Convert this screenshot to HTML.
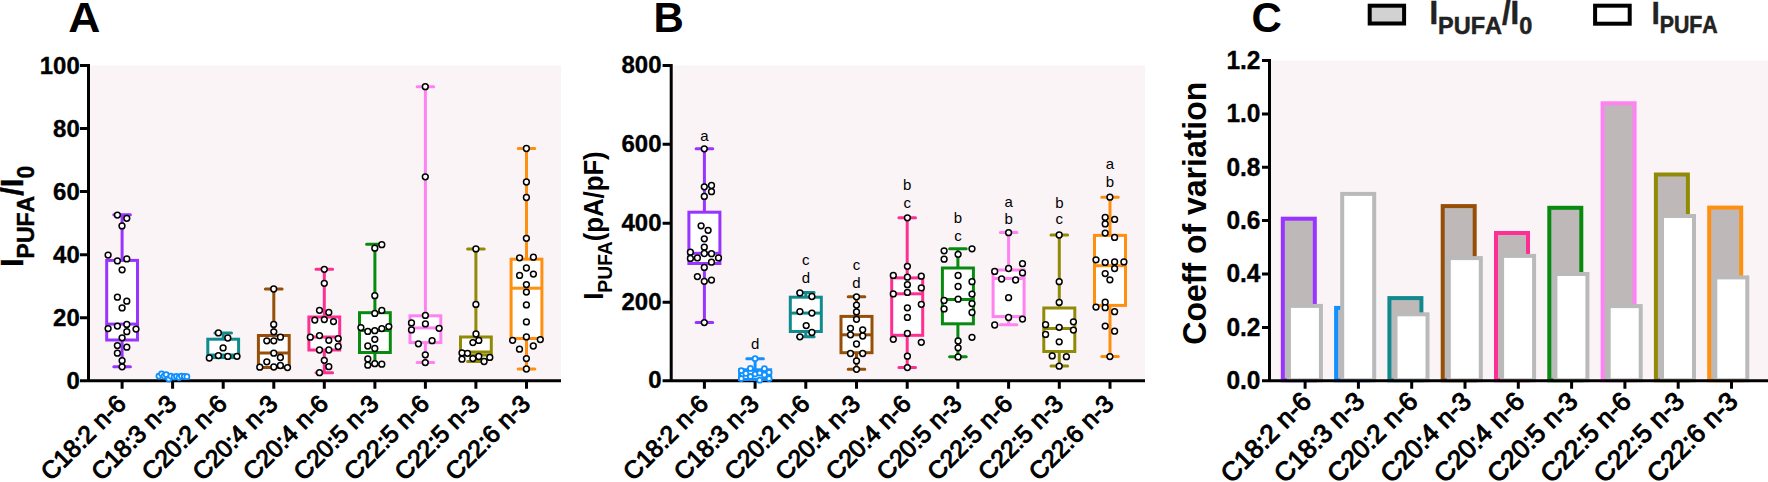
<!DOCTYPE html>
<html><head><meta charset="utf-8"><title>Figure</title>
<style>
html,body{margin:0;padding:0;background:#fff;}
body{width:1768px;height:482px;overflow:hidden;}
svg{display:block;font-family:'Liberation Sans', Arial, sans-serif;}
</style></head><body>
<svg width="1768" height="482" viewBox="0 0 1768 482">
<rect width="1768" height="482" fill="#fff"/>
<rect x="88.5" y="65.5" width="472.5" height="315.3" fill="#faf4f6"/>
<path d="M88.5 64.0V382.3M80 380.8H561M80 65.5H88.5M80 128.6H88.5M80 191.6H88.5M80 254.7H88.5M80 317.7H88.5M80 380.8H88.5M122.1 380.8V388.8M172.6 380.8V388.8M223.2 380.8V388.8M273.8 380.8V388.8M324.3 380.8V388.8M374.9 380.8V388.8M425.4 380.8V388.8M475.9 380.8V388.8M526.5 380.8V388.8" stroke="#000" stroke-width="3" fill="none"/>
<text transform="translate(79.8,73.5) scale(1,1.035)" text-anchor="end" font-size="24" font-weight="bold" stroke="#000" stroke-width="0.35">100</text>
<text transform="translate(79.8,136.6) scale(1,1.035)" text-anchor="end" font-size="24" font-weight="bold" stroke="#000" stroke-width="0.35">80</text>
<text transform="translate(79.8,199.6) scale(1,1.035)" text-anchor="end" font-size="24" font-weight="bold" stroke="#000" stroke-width="0.35">60</text>
<text transform="translate(79.8,262.7) scale(1,1.035)" text-anchor="end" font-size="24" font-weight="bold" stroke="#000" stroke-width="0.35">40</text>
<text transform="translate(79.8,325.7) scale(1,1.035)" text-anchor="end" font-size="24" font-weight="bold" stroke="#000" stroke-width="0.35">20</text>
<text transform="translate(79.8,388.8) scale(1,1.035)" text-anchor="end" font-size="24" font-weight="bold" stroke="#000" stroke-width="0.35">0</text>
<g stroke="#9933ff" stroke-width="3.0" fill="none"><path stroke-linecap="round" d="M122.1 260.4V214.8M113.8 214.8H130.4" /><path stroke-linecap="round" d="M122.1 340.0V366.7M113.8 366.7H130.4" /><rect x="106.7" y="260.4" width="30.8" height="79.6" fill="#fff"/><path d="M106.7 324.1H137.5"/></g>
<g stroke="#108a8c" stroke-width="3.0" fill="none"><path stroke-linecap="round" d="M223.2 339.2V333.0M214.9 333.0H231.5" /><rect x="207.8" y="339.2" width="30.8" height="18.4" fill="#fff"/><path d="M207.8 355.0H238.6"/></g>
<g stroke="#964f08" stroke-width="3.0" fill="none"><path stroke-linecap="round" d="M273.8 335.5V289.0M265.4 289.0H282.1" /><rect x="258.4" y="335.5" width="30.8" height="32.0" fill="#fff"/><path d="M258.4 353.0H289.1"/></g>
<g stroke="#ff2e93" stroke-width="3.0" fill="none"><path stroke-linecap="round" d="M324.3 317.0V269.3M316.0 269.3H332.6" /><path stroke-linecap="round" d="M324.3 350.0V372.7M316.0 372.7H332.6" /><rect x="308.9" y="317.0" width="30.8" height="33.0" fill="#fff"/><path d="M308.9 337.0H339.7"/></g>
<g stroke="#088a10" stroke-width="3.0" fill="none"><path stroke-linecap="round" d="M374.9 312.7V244.3M366.6 244.3H383.2" /><path stroke-linecap="round" d="M374.9 352.5V364.2M366.6 364.2H383.2" /><rect x="359.5" y="312.7" width="30.8" height="39.8" fill="#fff"/><path d="M359.5 330.5H390.2"/></g>
<g stroke="#ff82f2" stroke-width="3.0" fill="none"><path stroke-linecap="round" d="M425.4 315.8V86.7M417.1 86.7H433.7" /><path stroke-linecap="round" d="M425.4 342.6V362.5M417.1 362.5H433.7" /><rect x="410.0" y="315.8" width="30.8" height="26.8" fill="#fff"/><path d="M410.0 327.9H440.8"/></g>
<g stroke="#918a06" stroke-width="3.0" fill="none"><path stroke-linecap="round" d="M475.9 337.0V248.9M467.6 248.9H484.2" /><path stroke-linecap="round" d="M475.9 355.0V361.6M467.6 361.6H484.2" /><rect x="460.5" y="337.0" width="30.8" height="18.0" fill="#fff"/><path d="M460.5 352.0H491.3"/></g>
<g stroke="#ff900f" stroke-width="3.0" fill="none"><path stroke-linecap="round" d="M526.5 259.2V148.5M518.2 148.5H534.8" /><path stroke-linecap="round" d="M526.5 338.5V369.0M518.2 369.0H534.8" /><rect x="511.1" y="259.2" width="30.8" height="79.3" fill="#fff"/><path d="M511.1 288.2H541.9"/></g>
<g stroke="#000" stroke-width="1.5" fill="#fff"><circle cx="117.4" cy="215.1" r="2.9"/><circle cx="126.8" cy="218.3" r="2.9"/><circle cx="122.0" cy="225.9" r="2.9"/><circle cx="108.1" cy="255.1" r="2.9"/><circle cx="117.4" cy="260.9" r="2.9"/><circle cx="126.8" cy="258.9" r="2.9"/><circle cx="122.1" cy="269.8" r="2.9"/><circle cx="117.4" cy="297.2" r="2.9"/><circle cx="126.8" cy="301.2" r="2.9"/><circle cx="122.1" cy="307.9" r="2.9"/><circle cx="117.4" cy="326.1" r="2.9"/><circle cx="126.8" cy="324.4" r="2.9"/><circle cx="108.1" cy="328.6" r="2.9"/><circle cx="136.0" cy="329.1" r="2.9"/><circle cx="126.8" cy="331.7" r="2.9"/><circle cx="122.1" cy="337.8" r="2.9"/><circle cx="117.4" cy="345.6" r="2.9"/><circle cx="126.8" cy="347.2" r="2.9"/><circle cx="117.4" cy="353.2" r="2.9"/><circle cx="122.1" cy="360.7" r="2.9"/><circle cx="122.1" cy="366.8" r="2.9"/></g>
<g stroke="#1190ff" stroke-width="1.8" fill="#fff"><circle cx="158.9" cy="376.1" r="2.5"/><circle cx="161.6" cy="373.8" r="2.5"/><circle cx="164.1" cy="376.1" r="2.5"/><circle cx="166.2" cy="374.6" r="2.5"/><circle cx="168.8" cy="379.0" r="2.5"/><circle cx="170.9" cy="376.1" r="2.5"/><circle cx="174.1" cy="377.1" r="2.5"/><circle cx="176.5" cy="376.3" r="2.5"/><circle cx="179.0" cy="377.6" r="2.5"/><circle cx="181.5" cy="376.1" r="2.5"/><circle cx="184.3" cy="376.4" r="2.5"/><circle cx="186.9" cy="376.7" r="2.5"/></g>
<g stroke="#000" stroke-width="1.5" fill="#fff"><circle cx="218.4" cy="332.9" r="2.9"/><circle cx="227.8" cy="338.0" r="2.9"/><circle cx="223.1" cy="347.9" r="2.9"/><circle cx="209.3" cy="358.0" r="2.9"/><circle cx="218.4" cy="355.6" r="2.9"/><circle cx="227.8" cy="356.4" r="2.9"/><circle cx="237.0" cy="356.3" r="2.9"/></g>
<g stroke="#000" stroke-width="1.5" fill="#fff"><circle cx="273.7" cy="289.0" r="2.9"/><circle cx="273.7" cy="324.4" r="2.9"/><circle cx="273.8" cy="331.8" r="2.9"/><circle cx="280.4" cy="337.2" r="2.9"/><circle cx="266.8" cy="340.8" r="2.9"/><circle cx="273.8" cy="340.8" r="2.9"/><circle cx="273.8" cy="353.2" r="2.9"/><circle cx="280.4" cy="357.5" r="2.9"/><circle cx="266.8" cy="361.8" r="2.9"/><circle cx="259.8" cy="367.2" r="2.9"/><circle cx="273.8" cy="367.0" r="2.9"/><circle cx="280.4" cy="365.5" r="2.9"/><circle cx="287.5" cy="367.6" r="2.9"/></g>
<g stroke="#000" stroke-width="1.5" fill="#fff"><circle cx="324.3" cy="269.3" r="2.9"/><circle cx="324.3" cy="283.3" r="2.9"/><circle cx="319.5" cy="310.3" r="2.9"/><circle cx="328.8" cy="312.4" r="2.9"/><circle cx="314.8" cy="320.1" r="2.9"/><circle cx="324.3" cy="319.6" r="2.9"/><circle cx="333.5" cy="321.6" r="2.9"/><circle cx="310.3" cy="337.2" r="2.9"/><circle cx="319.5" cy="335.6" r="2.9"/><circle cx="328.8" cy="340.3" r="2.9"/><circle cx="338.2" cy="338.6" r="2.9"/><circle cx="338.2" cy="346.5" r="2.9"/><circle cx="319.5" cy="350.0" r="2.9"/><circle cx="328.8" cy="350.0" r="2.9"/><circle cx="324.3" cy="360.3" r="2.9"/><circle cx="328.8" cy="366.7" r="2.9"/><circle cx="319.5" cy="372.7" r="2.9"/></g>
<g stroke="#000" stroke-width="1.5" fill="#fff"><circle cx="381.8" cy="244.7" r="2.9"/><circle cx="374.8" cy="248.2" r="2.9"/><circle cx="374.8" cy="295.7" r="2.9"/><circle cx="381.8" cy="310.4" r="2.9"/><circle cx="374.8" cy="313.4" r="2.9"/><circle cx="360.9" cy="327.6" r="2.9"/><circle cx="367.8" cy="331.4" r="2.9"/><circle cx="374.8" cy="330.7" r="2.9"/><circle cx="381.8" cy="328.6" r="2.9"/><circle cx="388.8" cy="326.6" r="2.9"/><circle cx="374.8" cy="339.3" r="2.9"/><circle cx="367.8" cy="346.0" r="2.9"/><circle cx="374.8" cy="348.5" r="2.9"/><circle cx="367.8" cy="359.0" r="2.9"/><circle cx="367.8" cy="365.2" r="2.9"/><circle cx="374.8" cy="363.7" r="2.9"/><circle cx="381.8" cy="364.2" r="2.9"/></g>
<g stroke="#000" stroke-width="1.5" fill="#fff"><circle cx="425.3" cy="86.7" r="2.9"/><circle cx="425.3" cy="176.8" r="2.9"/><circle cx="425.4" cy="315.4" r="2.9"/><circle cx="411.5" cy="322.9" r="2.9"/><circle cx="425.4" cy="323.9" r="2.9"/><circle cx="411.5" cy="329.9" r="2.9"/><circle cx="439.1" cy="328.3" r="2.9"/><circle cx="432.1" cy="340.7" r="2.9"/><circle cx="418.4" cy="343.8" r="2.9"/><circle cx="425.3" cy="354.8" r="2.9"/><circle cx="425.3" cy="362.6" r="2.9"/></g>
<g stroke="#000" stroke-width="1.5" fill="#fff"><circle cx="475.9" cy="248.9" r="2.9"/><circle cx="475.9" cy="304.4" r="2.9"/><circle cx="476.0" cy="334.0" r="2.9"/><circle cx="478.8" cy="340.4" r="2.9"/><circle cx="472.9" cy="342.6" r="2.9"/><circle cx="462.0" cy="352.9" r="2.9"/><circle cx="467.5" cy="353.3" r="2.9"/><circle cx="462.0" cy="359.2" r="2.9"/><circle cx="472.9" cy="358.6" r="2.9"/><circle cx="478.8" cy="356.5" r="2.9"/><circle cx="484.1" cy="361.5" r="2.9"/><circle cx="489.8" cy="357.4" r="2.9"/></g>
<g stroke="#000" stroke-width="1.5" fill="#fff"><circle cx="526.4" cy="148.5" r="2.9"/><circle cx="526.4" cy="182.0" r="2.9"/><circle cx="526.4" cy="197.5" r="2.9"/><circle cx="526.4" cy="238.3" r="2.9"/><circle cx="519.6" cy="257.8" r="2.9"/><circle cx="533.4" cy="257.2" r="2.9"/><circle cx="526.4" cy="268.0" r="2.9"/><circle cx="519.6" cy="275.4" r="2.9"/><circle cx="533.4" cy="274.1" r="2.9"/><circle cx="526.4" cy="284.6" r="2.9"/><circle cx="526.4" cy="292.1" r="2.9"/><circle cx="526.4" cy="304.9" r="2.9"/><circle cx="526.4" cy="321.9" r="2.9"/><circle cx="526.4" cy="336.9" r="2.9"/><circle cx="512.6" cy="340.3" r="2.9"/><circle cx="540.3" cy="339.6" r="2.9"/><circle cx="519.5" cy="349.2" r="2.9"/><circle cx="533.3" cy="346.0" r="2.9"/><circle cx="526.4" cy="358.6" r="2.9"/><circle cx="526.4" cy="369.0" r="2.9"/></g>
<text transform="translate(127.4,405.3) rotate(-45)" style="font-kerning:none" text-anchor="end" font-size="24.6" stroke="#000" stroke-width="1.0">C18:2 n-6</text>
<text transform="translate(177.9,405.3) rotate(-45)" style="font-kerning:none" text-anchor="end" font-size="24.6" stroke="#000" stroke-width="1.0">C18:3 n-3</text>
<text transform="translate(228.5,405.3) rotate(-45)" style="font-kerning:none" text-anchor="end" font-size="24.6" stroke="#000" stroke-width="1.0">C20:2 n-6</text>
<text transform="translate(279.1,405.3) rotate(-45)" style="font-kerning:none" text-anchor="end" font-size="24.6" stroke="#000" stroke-width="1.0">C20:4 n-3</text>
<text transform="translate(329.6,405.3) rotate(-45)" style="font-kerning:none" text-anchor="end" font-size="24.6" stroke="#000" stroke-width="1.0">C20:4 n-6</text>
<text transform="translate(380.2,405.3) rotate(-45)" style="font-kerning:none" text-anchor="end" font-size="24.6" stroke="#000" stroke-width="1.0">C20:5 n-3</text>
<text transform="translate(430.7,405.3) rotate(-45)" style="font-kerning:none" text-anchor="end" font-size="24.6" stroke="#000" stroke-width="1.0">C22:5 n-6</text>
<text transform="translate(481.2,405.3) rotate(-45)" style="font-kerning:none" text-anchor="end" font-size="24.6" stroke="#000" stroke-width="1.0">C22:5 n-3</text>
<text transform="translate(531.8,405.3) rotate(-45)" style="font-kerning:none" text-anchor="end" font-size="24.6" stroke="#000" stroke-width="1.0">C22:6 n-3</text>
<rect x="671.2" y="65.5" width="473.79999999999995" height="315.3" fill="#faf4f6"/>
<path d="M671.2 64.0V382.3M662.6 380.8H1145M662.6 65.5H671.2M662.6 144.3H671.2M662.6 223.2H671.2M662.6 302.2H671.2M662.6 380.8H671.2M704.4 380.8V388.8M755.1 380.8V388.8M805.8 380.8V388.8M856.5 380.8V388.8M907.2 380.8V388.8M957.9 380.8V388.8M1008.6 380.8V388.8M1059.3 380.8V388.8M1110.0 380.8V388.8" stroke="#000" stroke-width="3" fill="none"/>
<text transform="translate(661.5,73.0) scale(1,1.035)" text-anchor="end" font-size="24" font-weight="bold" stroke="#000" stroke-width="0.35">800</text>
<text transform="translate(661.5,151.8) scale(1,1.035)" text-anchor="end" font-size="24" font-weight="bold" stroke="#000" stroke-width="0.35">600</text>
<text transform="translate(661.5,230.7) scale(1,1.035)" text-anchor="end" font-size="24" font-weight="bold" stroke="#000" stroke-width="0.35">400</text>
<text transform="translate(661.5,309.7) scale(1,1.035)" text-anchor="end" font-size="24" font-weight="bold" stroke="#000" stroke-width="0.35">200</text>
<text transform="translate(661.5,388.3) scale(1,1.035)" text-anchor="end" font-size="24" font-weight="bold" stroke="#000" stroke-width="0.35">0</text>
<g stroke="#9933ff" stroke-width="3.0" fill="none"><path stroke-linecap="round" d="M704.4 212.2V148.7M696.1 148.7H712.7" /><path stroke-linecap="round" d="M704.4 263.5V322.6M696.1 322.6H712.7" /><rect x="688.9" y="212.2" width="31.0" height="51.3" fill="#fff"/><path d="M688.9 253.3H719.9"/></g>
<g stroke="#1190ff" stroke-width="3.0" fill="none"><path stroke-linecap="round" d="M755.1 369.8V358.8M746.8 358.8H763.4" /><rect x="739.6" y="369.8" width="31.0" height="9.7" fill="#fff"/></g>
<g stroke="#108a8c" stroke-width="3.0" fill="none"><path stroke-linecap="round" d="M805.8 297.2V292.5M797.5 292.5H814.1" /><path stroke-linecap="round" d="M805.8 331.5V336.8M797.5 336.8H814.1" /><rect x="790.3" y="297.2" width="31.0" height="34.3" fill="#fff"/><path d="M790.3 313.1H821.3"/></g>
<g stroke="#964f08" stroke-width="3.0" fill="none"><path stroke-linecap="round" d="M856.5 316.4V296.8M848.2 296.8H864.8" /><path stroke-linecap="round" d="M856.5 352.7V369.2M848.2 369.2H864.8" /><rect x="841.0" y="316.4" width="31.0" height="36.3" fill="#fff"/><path d="M841.0 334.8H872.0"/></g>
<g stroke="#ff2e93" stroke-width="3.0" fill="none"><path stroke-linecap="round" d="M907.2 277.9V217.8M898.9 217.8H915.5" /><path stroke-linecap="round" d="M907.2 335.3V367.6M898.9 367.6H915.5" /><rect x="891.7" y="277.9" width="31.0" height="57.4" fill="#fff"/><path d="M891.7 293.8H922.7"/></g>
<g stroke="#088a10" stroke-width="3.0" fill="none"><path stroke-linecap="round" d="M957.9 268.0V248.8M949.6 248.8H966.2" /><path stroke-linecap="round" d="M957.9 323.8V356.8M949.6 356.8H966.2" /><rect x="942.4" y="268.0" width="31.0" height="55.8" fill="#fff"/><path d="M942.4 299.5H973.4"/></g>
<g stroke="#ff82f2" stroke-width="3.0" fill="none"><path stroke-linecap="round" d="M1008.6 270.0V232.6M1000.3 232.6H1016.9" /><path stroke-linecap="round" d="M1008.6 316.6V324.7M1000.3 324.7H1016.9" /><rect x="993.1" y="270.0" width="31.0" height="46.6" fill="#fff"/><path d="M993.1 278.5H1024.1"/></g>
<g stroke="#918a06" stroke-width="3.0" fill="none"><path stroke-linecap="round" d="M1059.3 308.0V234.9M1051.0 234.9H1067.6" /><path stroke-linecap="round" d="M1059.3 351.5V366.0M1051.0 366.0H1067.6" /><rect x="1043.8" y="308.0" width="31.0" height="43.5" fill="#fff"/><path d="M1043.8 328.5H1074.8"/></g>
<g stroke="#ff900f" stroke-width="3.0" fill="none"><path stroke-linecap="round" d="M1110.0 235.4V197.2M1101.7 197.2H1118.3" /><path stroke-linecap="round" d="M1110.0 305.4V356.6M1101.7 356.6H1118.3" /><rect x="1094.5" y="235.4" width="31.0" height="70.0" fill="#fff"/><path d="M1094.5 265.7H1125.5"/></g>
<g stroke="#000" stroke-width="1.5" fill="#fff"><circle cx="704.3" cy="148.8" r="2.9"/><circle cx="704.3" cy="186.8" r="2.9"/><circle cx="711.5" cy="185.5" r="2.9"/><circle cx="711.5" cy="191.7" r="2.9"/><circle cx="704.3" cy="196.4" r="2.9"/><circle cx="701.1" cy="225.8" r="2.9"/><circle cx="708.1" cy="230.3" r="2.9"/><circle cx="704.3" cy="238.8" r="2.9"/><circle cx="704.3" cy="247.2" r="2.9"/><circle cx="690.4" cy="252.2" r="2.9"/><circle cx="704.3" cy="253.5" r="2.9"/><circle cx="711.5" cy="253.7" r="2.9"/><circle cx="690.4" cy="258.4" r="2.9"/><circle cx="697.4" cy="257.9" r="2.9"/><circle cx="718.5" cy="257.9" r="2.9"/><circle cx="711.5" cy="262.2" r="2.9"/><circle cx="704.3" cy="267.4" r="2.9"/><circle cx="697.4" cy="276.6" r="2.9"/><circle cx="704.3" cy="281.3" r="2.9"/><circle cx="711.5" cy="280.1" r="2.9"/><circle cx="704.3" cy="322.6" r="2.9"/></g>
<g stroke="#1190ff" stroke-width="1.8" fill="#fff"><circle cx="755.1" cy="358.7" r="2.5"/><circle cx="750.4" cy="368.4" r="2.5"/><circle cx="764.4" cy="368.7" r="2.5"/><circle cx="741.3" cy="370.6" r="2.5"/><circle cx="745.9" cy="373.4" r="2.5"/><circle cx="755.1" cy="374.0" r="2.5"/><circle cx="759.7" cy="373.0" r="2.5"/><circle cx="764.4" cy="374.9" r="2.5"/><circle cx="769.1" cy="372.3" r="2.5"/><circle cx="741.3" cy="378.5" r="2.5"/><circle cx="750.4" cy="376.5" r="2.5"/><circle cx="759.7" cy="380.2" r="2.5"/><circle cx="769.1" cy="378.5" r="2.5"/></g>
<g stroke="#000" stroke-width="1.5" fill="#fff"><circle cx="799.9" cy="292.9" r="2.9"/><circle cx="811.9" cy="296.5" r="2.9"/><circle cx="799.9" cy="311.6" r="2.9"/><circle cx="811.9" cy="313.1" r="2.9"/><circle cx="806.2" cy="325.6" r="2.9"/><circle cx="811.9" cy="332.5" r="2.9"/><circle cx="799.9" cy="336.8" r="2.9"/></g>
<g stroke="#000" stroke-width="1.5" fill="#fff"><circle cx="856.5" cy="296.8" r="2.9"/><circle cx="856.5" cy="305.1" r="2.9"/><circle cx="856.5" cy="311.9" r="2.9"/><circle cx="856.5" cy="319.3" r="2.9"/><circle cx="850.5" cy="328.3" r="2.9"/><circle cx="862.7" cy="329.8" r="2.9"/><circle cx="850.5" cy="334.8" r="2.9"/><circle cx="862.7" cy="336.0" r="2.9"/><circle cx="856.5" cy="344.0" r="2.9"/><circle cx="850.5" cy="353.5" r="2.9"/><circle cx="862.7" cy="353.5" r="2.9"/><circle cx="856.5" cy="360.9" r="2.9"/><circle cx="856.5" cy="369.3" r="2.9"/></g>
<g stroke="#000" stroke-width="1.5" fill="#fff"><circle cx="907.4" cy="217.8" r="2.9"/><circle cx="907.4" cy="266.3" r="2.9"/><circle cx="893.3" cy="275.4" r="2.9"/><circle cx="907.4" cy="277.2" r="2.9"/><circle cx="921.3" cy="276.2" r="2.9"/><circle cx="907.4" cy="284.7" r="2.9"/><circle cx="921.3" cy="287.9" r="2.9"/><circle cx="893.3" cy="293.9" r="2.9"/><circle cx="907.4" cy="292.4" r="2.9"/><circle cx="921.3" cy="304.3" r="2.9"/><circle cx="907.4" cy="307.8" r="2.9"/><circle cx="907.4" cy="317.4" r="2.9"/><circle cx="907.4" cy="333.4" r="2.9"/><circle cx="893.3" cy="339.3" r="2.9"/><circle cx="921.3" cy="342.3" r="2.9"/><circle cx="907.4" cy="356.2" r="2.9"/><circle cx="907.4" cy="367.6" r="2.9"/></g>
<g stroke="#000" stroke-width="1.5" fill="#fff"><circle cx="944.1" cy="250.8" r="2.9"/><circle cx="972.0" cy="248.8" r="2.9"/><circle cx="958.1" cy="254.3" r="2.9"/><circle cx="944.1" cy="259.2" r="2.9"/><circle cx="958.1" cy="275.5" r="2.9"/><circle cx="972.0" cy="281.7" r="2.9"/><circle cx="958.1" cy="286.5" r="2.9"/><circle cx="972.0" cy="294.1" r="2.9"/><circle cx="944.1" cy="300.5" r="2.9"/><circle cx="958.1" cy="299.2" r="2.9"/><circle cx="972.0" cy="303.6" r="2.9"/><circle cx="944.1" cy="308.9" r="2.9"/><circle cx="972.0" cy="312.5" r="2.9"/><circle cx="972.0" cy="337.3" r="2.9"/><circle cx="958.1" cy="341.0" r="2.9"/><circle cx="958.1" cy="347.8" r="2.9"/><circle cx="958.1" cy="356.9" r="2.9"/></g>
<g stroke="#000" stroke-width="1.5" fill="#fff"><circle cx="1008.6" cy="232.7" r="2.9"/><circle cx="1022.5" cy="263.7" r="2.9"/><circle cx="994.7" cy="271.4" r="2.9"/><circle cx="1008.6" cy="268.5" r="2.9"/><circle cx="1022.5" cy="272.9" r="2.9"/><circle cx="1001.6" cy="279.0" r="2.9"/><circle cx="1015.6" cy="280.0" r="2.9"/><circle cx="1008.6" cy="297.7" r="2.9"/><circle cx="1008.6" cy="317.5" r="2.9"/><circle cx="1022.5" cy="319.1" r="2.9"/><circle cx="994.7" cy="325.0" r="2.9"/></g>
<g stroke="#000" stroke-width="1.5" fill="#fff"><circle cx="1059.2" cy="235.0" r="2.9"/><circle cx="1059.2" cy="281.7" r="2.9"/><circle cx="1059.2" cy="302.4" r="2.9"/><circle cx="1073.4" cy="321.8" r="2.9"/><circle cx="1045.6" cy="324.7" r="2.9"/><circle cx="1059.2" cy="327.3" r="2.9"/><circle cx="1073.4" cy="330.1" r="2.9"/><circle cx="1045.6" cy="334.4" r="2.9"/><circle cx="1059.2" cy="341.8" r="2.9"/><circle cx="1052.2" cy="355.9" r="2.9"/><circle cx="1066.4" cy="356.7" r="2.9"/><circle cx="1059.2" cy="366.2" r="2.9"/></g>
<g stroke="#000" stroke-width="1.5" fill="#fff"><circle cx="1109.9" cy="197.2" r="2.9"/><circle cx="1105.2" cy="217.4" r="2.9"/><circle cx="1114.6" cy="219.4" r="2.9"/><circle cx="1105.2" cy="223.9" r="2.9"/><circle cx="1105.2" cy="233.1" r="2.9"/><circle cx="1114.6" cy="237.4" r="2.9"/><circle cx="1096.0" cy="259.8" r="2.9"/><circle cx="1105.2" cy="262.4" r="2.9"/><circle cx="1114.6" cy="261.9" r="2.9"/><circle cx="1123.9" cy="261.9" r="2.9"/><circle cx="1114.6" cy="268.6" r="2.9"/><circle cx="1105.2" cy="273.6" r="2.9"/><circle cx="1109.9" cy="279.8" r="2.9"/><circle cx="1105.2" cy="302.2" r="2.9"/><circle cx="1096.0" cy="307.1" r="2.9"/><circle cx="1105.2" cy="307.7" r="2.9"/><circle cx="1114.6" cy="311.7" r="2.9"/><circle cx="1105.2" cy="326.1" r="2.9"/><circle cx="1114.6" cy="331.2" r="2.9"/><circle cx="1109.9" cy="356.6" r="2.9"/></g>
<text transform="translate(709.7,405.3) rotate(-45)" style="font-kerning:none" text-anchor="end" font-size="24.6" stroke="#000" stroke-width="1.0">C18:2 n-6</text>
<text transform="translate(760.4,405.3) rotate(-45)" style="font-kerning:none" text-anchor="end" font-size="24.6" stroke="#000" stroke-width="1.0">C18:3 n-3</text>
<text transform="translate(811.1,405.3) rotate(-45)" style="font-kerning:none" text-anchor="end" font-size="24.6" stroke="#000" stroke-width="1.0">C20:2 n-6</text>
<text transform="translate(861.8,405.3) rotate(-45)" style="font-kerning:none" text-anchor="end" font-size="24.6" stroke="#000" stroke-width="1.0">C20:4 n-3</text>
<text transform="translate(912.5,405.3) rotate(-45)" style="font-kerning:none" text-anchor="end" font-size="24.6" stroke="#000" stroke-width="1.0">C20:4 n-6</text>
<text transform="translate(963.2,405.3) rotate(-45)" style="font-kerning:none" text-anchor="end" font-size="24.6" stroke="#000" stroke-width="1.0">C20:5 n-3</text>
<text transform="translate(1013.9,405.3) rotate(-45)" style="font-kerning:none" text-anchor="end" font-size="24.6" stroke="#000" stroke-width="1.0">C22:5 n-6</text>
<text transform="translate(1064.6,405.3) rotate(-45)" style="font-kerning:none" text-anchor="end" font-size="24.6" stroke="#000" stroke-width="1.0">C22:5 n-3</text>
<text transform="translate(1115.3,405.3) rotate(-45)" style="font-kerning:none" text-anchor="end" font-size="24.6" stroke="#000" stroke-width="1.0">C22:6 n-3</text>
<text x="704.4" y="141.1" text-anchor="middle" font-size="15">a</text>
<text x="755.1" y="349.2" text-anchor="middle" font-size="15">d</text>
<text x="805.8" y="265.4" text-anchor="middle" font-size="15">c</text>
<text x="805.8" y="282.6" text-anchor="middle" font-size="15">d</text>
<text x="856.5" y="270.4" text-anchor="middle" font-size="15">c</text>
<text x="856.5" y="287.6" text-anchor="middle" font-size="15">d</text>
<text x="907.2" y="190.0" text-anchor="middle" font-size="15">b</text>
<text x="907.2" y="207.5" text-anchor="middle" font-size="15">c</text>
<text x="957.9" y="222.8" text-anchor="middle" font-size="15">b</text>
<text x="957.9" y="241.0" text-anchor="middle" font-size="15">c</text>
<text x="1008.6" y="206.6" text-anchor="middle" font-size="15">a</text>
<text x="1008.6" y="223.6" text-anchor="middle" font-size="15">b</text>
<text x="1059.3" y="207.5" text-anchor="middle" font-size="15">b</text>
<text x="1059.3" y="224.3" text-anchor="middle" font-size="15">c</text>
<text x="1110.0" y="168.6" text-anchor="middle" font-size="15">a</text>
<text x="1110.0" y="186.8" text-anchor="middle" font-size="15">b</text>
<rect x="1269.5" y="60.5" width="498.5" height="320.3" fill="#faf4f6"/>
<rect x="1282.8" y="218.7" width="32.0" height="161.6" fill="#beb8b9" stroke="#9933ff" stroke-width="4.0"/>
<rect x="1288.9" y="305.9" width="32.0" height="74.4" fill="#fff" stroke="#bababa" stroke-width="4.0"/>
<rect x="1336.1" y="307.9" width="32.0" height="72.4" fill="#beb8b9" stroke="#1190ff" stroke-width="4.0"/>
<rect x="1342.2" y="193.9" width="32.0" height="186.4" fill="#fff" stroke="#bababa" stroke-width="4.0"/>
<rect x="1389.4" y="298.1" width="32.0" height="82.2" fill="#beb8b9" stroke="#108a8c" stroke-width="4.0"/>
<rect x="1395.5" y="314.3" width="32.0" height="66.0" fill="#fff" stroke="#bababa" stroke-width="4.0"/>
<rect x="1442.7" y="206.1" width="32.0" height="174.2" fill="#beb8b9" stroke="#964f08" stroke-width="4.0"/>
<rect x="1448.8" y="258.1" width="32.0" height="122.2" fill="#fff" stroke="#bababa" stroke-width="4.0"/>
<rect x="1496.0" y="233.0" width="32.0" height="147.3" fill="#beb8b9" stroke="#ff2e93" stroke-width="4.0"/>
<rect x="1502.1" y="255.9" width="32.0" height="124.4" fill="#fff" stroke="#bababa" stroke-width="4.0"/>
<rect x="1549.3" y="207.8" width="32.0" height="172.5" fill="#beb8b9" stroke="#088a10" stroke-width="4.0"/>
<rect x="1555.4" y="274.0" width="32.0" height="106.3" fill="#fff" stroke="#bababa" stroke-width="4.0"/>
<rect x="1602.6" y="103.3" width="32.0" height="277.0" fill="#beb8b9" stroke="#ff82f2" stroke-width="4.0"/>
<rect x="1608.7" y="306.1" width="32.0" height="74.2" fill="#fff" stroke="#bababa" stroke-width="4.0"/>
<rect x="1655.9" y="174.5" width="32.0" height="205.8" fill="#beb8b9" stroke="#918a06" stroke-width="4.0"/>
<rect x="1662.0" y="216.0" width="32.0" height="164.3" fill="#fff" stroke="#bababa" stroke-width="4.0"/>
<rect x="1709.2" y="207.6" width="32.0" height="172.7" fill="#beb8b9" stroke="#ff900f" stroke-width="4.0"/>
<rect x="1715.3" y="277.4" width="32.0" height="102.9" fill="#fff" stroke="#bababa" stroke-width="4.0"/>
<path d="M1269.5 59.0V382.3M1262 380.8H1768M1262 60.5H1269.5M1262 113.9H1269.5M1262 167.3H1269.5M1262 220.6H1269.5M1262 274.0H1269.5M1262 327.4H1269.5M1262 380.8H1269.5M1305.1 380.8V388.8M1358.4 380.8V388.8M1411.7 380.8V388.8M1465.0 380.8V388.8M1518.3 380.8V388.8M1571.6 380.8V388.8M1624.9 380.8V388.8M1678.2 380.8V388.8M1731.5 380.8V388.8" stroke="#000" stroke-width="3" fill="none"/>
<text transform="translate(1260.5,68.8) scale(1,1.035)" text-anchor="end" font-size="24.5" font-weight="bold" stroke="#000" stroke-width="0.35">1.2</text>
<text transform="translate(1260.5,122.2) scale(1,1.035)" text-anchor="end" font-size="24.5" font-weight="bold" stroke="#000" stroke-width="0.35">1.0</text>
<text transform="translate(1260.5,175.6) scale(1,1.035)" text-anchor="end" font-size="24.5" font-weight="bold" stroke="#000" stroke-width="0.35">0.8</text>
<text transform="translate(1260.5,228.9) scale(1,1.035)" text-anchor="end" font-size="24.5" font-weight="bold" stroke="#000" stroke-width="0.35">0.6</text>
<text transform="translate(1260.5,282.3) scale(1,1.035)" text-anchor="end" font-size="24.5" font-weight="bold" stroke="#000" stroke-width="0.35">0.4</text>
<text transform="translate(1260.5,335.7) scale(1,1.035)" text-anchor="end" font-size="24.5" font-weight="bold" stroke="#000" stroke-width="0.35">0.2</text>
<text transform="translate(1260.5,389.1) scale(1,1.035)" text-anchor="end" font-size="24.5" font-weight="bold" stroke="#000" stroke-width="0.35">0.0</text>
<text transform="translate(1312.8,402.9) rotate(-45)" style="font-kerning:none" text-anchor="end" font-size="26.2" stroke="#000" stroke-width="1.05">C18:2 n-6</text>
<text transform="translate(1366.1,402.9) rotate(-45)" style="font-kerning:none" text-anchor="end" font-size="26.2" stroke="#000" stroke-width="1.05">C18:3 n-3</text>
<text transform="translate(1419.4,402.9) rotate(-45)" style="font-kerning:none" text-anchor="end" font-size="26.2" stroke="#000" stroke-width="1.05">C20:2 n-6</text>
<text transform="translate(1472.7,402.9) rotate(-45)" style="font-kerning:none" text-anchor="end" font-size="26.2" stroke="#000" stroke-width="1.05">C20:4 n-3</text>
<text transform="translate(1526.0,402.9) rotate(-45)" style="font-kerning:none" text-anchor="end" font-size="26.2" stroke="#000" stroke-width="1.05">C20:4 n-6</text>
<text transform="translate(1579.3,402.9) rotate(-45)" style="font-kerning:none" text-anchor="end" font-size="26.2" stroke="#000" stroke-width="1.05">C20:5 n-3</text>
<text transform="translate(1632.6,402.9) rotate(-45)" style="font-kerning:none" text-anchor="end" font-size="26.2" stroke="#000" stroke-width="1.05">C22:5 n-6</text>
<text transform="translate(1685.9,402.9) rotate(-45)" style="font-kerning:none" text-anchor="end" font-size="26.2" stroke="#000" stroke-width="1.05">C22:5 n-3</text>
<text transform="translate(1739.2,402.9) rotate(-45)" style="font-kerning:none" text-anchor="end" font-size="26.2" stroke="#000" stroke-width="1.05">C22:6 n-3</text>
<text transform="translate(68.2,32.4) scale(1.06,1)" font-size="42" font-weight="bold">A</text>
<text x="653.5" y="32.0" font-size="42" font-weight="bold">B</text>
<text x="1251.5" y="32.3" font-size="42" font-weight="bold">C</text>
<text transform="translate(23,267.0) rotate(-90)" style="font-kerning:none" font-weight="bold" stroke="#000" stroke-width="0.4" font-size="31">I<tspan font-size="23" dy="10.6">PUFA</tspan><tspan dy="-10.6">/I</tspan><tspan font-size="23" dy="10.6">0</tspan></text>
<text transform="translate(603,299.8) rotate(-90) scale(1,1.07)" font-weight="bold" font-size="25.7">I<tspan font-size="19.3" dy="8.1">PUFA</tspan><tspan dy="-8.1">(pA/pF)</tspan></text>
<text transform="translate(1205.8,213.2) rotate(-90) scale(1,1.055)" font-weight="bold" font-size="32" text-anchor="middle">Coeff of variation</text>
<rect x="1369.7" y="5.7" width="34.4" height="17.8" fill="#d2d2d2" stroke="#000" stroke-width="4"/>
<text transform="translate(1429.4,23.5) scale(1,1.05)" style="font-kerning:none" fill="#222" stroke="#222" stroke-width="0.5" font-weight="bold" font-size="31">I<tspan font-size="23.5" dy="9.7">PUFA</tspan><tspan dy="-9.7">/I</tspan><tspan font-size="23.5" dy="9.7">0</tspan></text>
<rect x="1595.1" y="5.7" width="34.6" height="18.0" fill="#fff" stroke="#000" stroke-width="4"/>
<text transform="translate(1651.8,23.7) scale(1,1.10)" style="font-kerning:none" fill="#222" stroke="#222" stroke-width="0.5" font-weight="bold" font-size="28.5">I<tspan font-size="21.3" dy="8.3">PUFA</tspan></text>
</svg>
</body></html>
